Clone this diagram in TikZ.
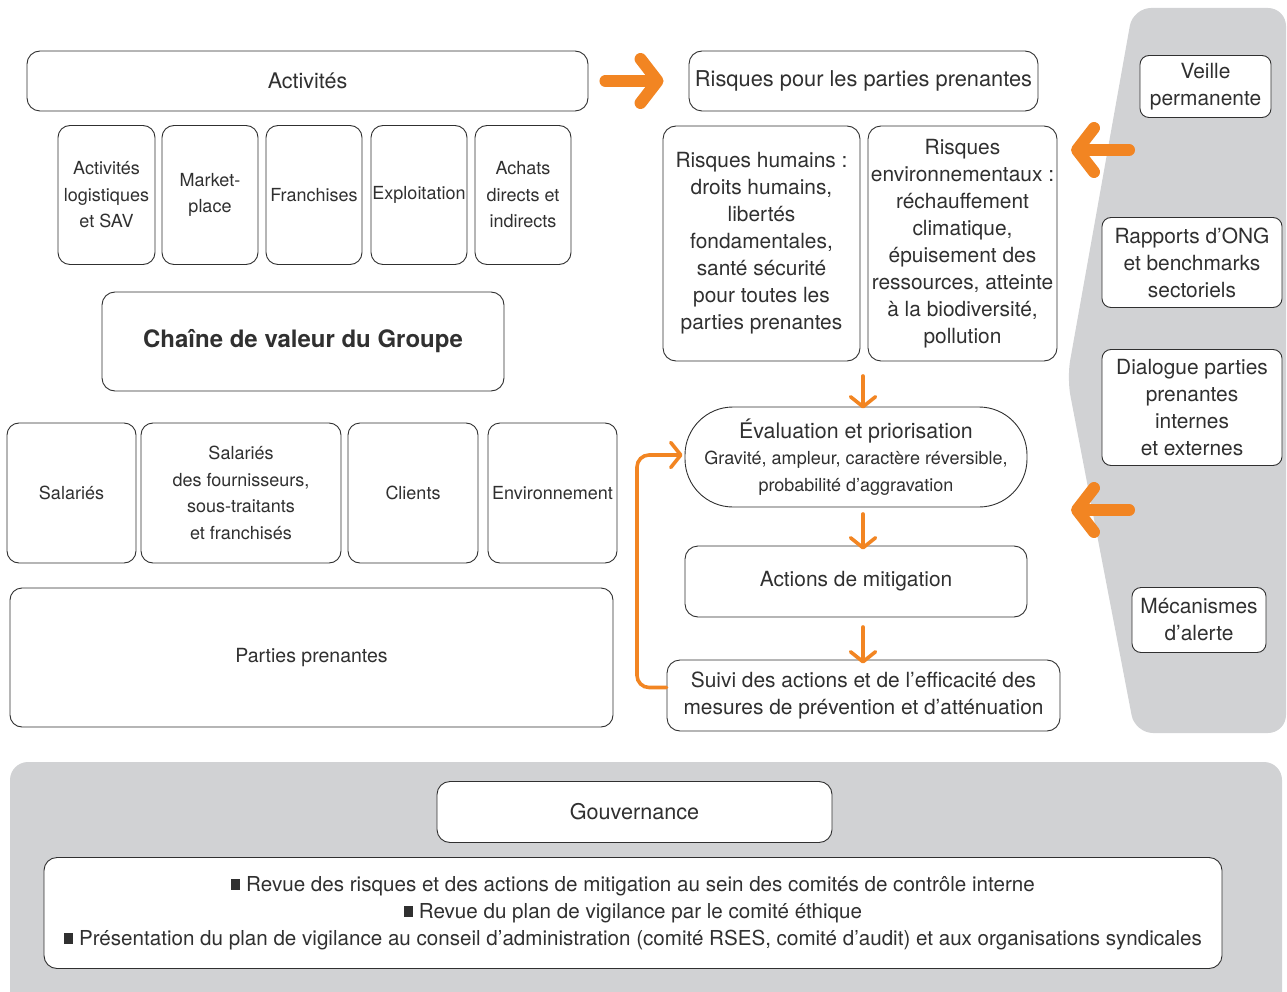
\documentclass[tikz,border=0pt]{standalone}
\usepackage{fontspec}
\setmainfont{TeX Gyre Heros}
\usetikzlibrary{arrows.meta}

\definecolor{vorange}{RGB}{242,133,34}
\definecolor{vgray}{RGB}{209,210,212}
\definecolor{vink}{RGB}{48,48,48}

\newcommand{\puce}{\rule[0.05em]{0.45em}{0.55em}\ }

\tikzset{
  box/.style={draw=vink, line width=0.9pt, rounded corners=13pt, fill=white,
    align=center, inner sep=1pt, text=vink, font=\fontsize{20.9}{27}\selectfont},
  smallbox/.style={box, rounded corners=12pt, font=\fontsize{18}{26.5}\selectfont},
  bigarrow/.style={draw=vorange, line width=12pt, line cap=round,
    -{Straight Barb[length=17pt, width=44pt, round]}},
  flowarrow/.style={draw=vorange, line width=3.6pt, line cap=round,
    -{Straight Barb[length=10pt, width=25pt, round]}},
}

\begin{document}
\begin{tikzpicture}[x=1pt,y=-1pt]
  \useasboundingbox (0,0) rectangle (1287,992);

  % gray panels
  \fill[vgray, rounded corners=18pt] (1133,8) -- (1286,8) -- (1286,733) -- (1135,733) -- (1067,378) -- cycle;
  \fill[vgray, rounded corners=18pt] (10,992) -- (10,762) -- (1282,762) -- (1282,992);
  \fill[vgray] (10,960) rectangle (1282,992);

  % value chain
  \node[box, minimum width=561, minimum height=60, font=\fontsize{21.5}{27}\selectfont] (act) at (307.5,81) {Activités};
  \node[smallbox, minimum width=97, minimum height=139] (logi) at (106.5,195) {Activités\\logistiques\\et SAV};
  \node[smallbox, minimum width=96, minimum height=139] (market) at (210,195) {Market-\\place};
  \node[smallbox, minimum width=96, minimum height=139] (franch) at (314,195) {Franchises};
  \node[smallbox, minimum width=96, minimum height=139] (exploit) at (419,195) {Exploitation};
  \node[smallbox, minimum width=96, minimum height=139] (achats) at (523,195) {Achats\\directs et\\indirects};
  \node[box, minimum width=402, minimum height=99, font=\fontsize{24}{28}\selectfont\bfseries] (chaine) at (303,341.5) {Chaîne de valeur du Groupe};

  % stakeholders
  \node[smallbox, minimum width=129, minimum height=140] (sal) at (71.5,493) {Salariés};
  \node[smallbox, minimum width=200, minimum height=140] (salfour) at (241,493) {Salariés\\des fournisseurs,\\sous-traitants\\et franchisés};
  \node[smallbox, minimum width=130, minimum height=140] (clients) at (413,493) {Clients};
  \node[smallbox, minimum width=129, minimum height=140] (envir) at (552.5,493) {Environnement};
  \node[smallbox, minimum width=603, minimum height=139, font=\fontsize{19.5}{26.5}\selectfont] (parties) at (311.5,657.5) {Parties prenantes};

  % risks
  \node[box, minimum width=349, minimum height=60, font=\fontsize{21.8}{27}\selectfont] (risques) at (863.5,81) {Risques pour les parties prenantes};
  \node[box, minimum width=197, minimum height=235] (rhum) at (761.5,243.5) {Risques humains :\\droits humains,\\libertés\\fondamentales,\\santé sécurité\\pour toutes les\\parties prenantes};
  \node[box, minimum width=189, minimum height=235] (renv) at (962.5,243.5) {Risques\\environnementaux :\\réchauffement\\climatique,\\épuisement des\\ressources, atteinte\\à la biodiversité,\\pollution};

  % process
  \node[box, rounded corners=48pt, minimum width=342, minimum height=100] (eval) at (856,457)
    {{\fontsize{21.4}{27}\selectfont Évaluation et priorisation}\\[-1pt]{\fontsize{18}{27}\selectfont Gravité, ampleur, caractère réversible,}\\{\fontsize{18}{27}\selectfont probabilité d’aggravation}};
  \node[box, minimum width=342, minimum height=71] (mitig) at (856,581.5) {Actions de mitigation};
  \node[box, minimum width=393, minimum height=71] (suivi) at (863.5,695.5) {Suivi des actions et de l’efficacité des\\mesures de prévention et d’atténuation};

  % sources
  \node[box, rounded corners=9pt, minimum width=131, minimum height=62] (veille) at (1205.5,86.5) {Veille\\permanente};
  \node[box, rounded corners=9pt, minimum width=180, minimum height=90] (ong) at (1192,262.5) {Rapports d’ONG\\et benchmarks\\sectoriels};
  \node[box, rounded corners=9pt, minimum width=180, minimum height=116] (dialog) at (1192,407.5) {Dialogue parties\\prenantes\\internes\\et externes};
  \node[box, rounded corners=9pt, minimum width=134, minimum height=65] (alerte) at (1199,620) {Mécanismes\\d’alerte};

  % governance
  \node[box, minimum width=395, minimum height=61, font=\fontsize{21.6}{27}\selectfont] (gouv) at (634.5,812) {Gouvernance};
  \node[box, minimum width=1178, minimum height=111, font=\fontsize{20.6}{27}\selectfont] (revue) at (633,913)
    {\puce Revue des risques et des actions de mitigation au sein des comités de contrôle interne\\
     \puce Revue du plan de vigilance par le comité éthique\\
     \puce Présentation du plan de vigilance au conseil d’administration (comité RSES, comité d’audit) et aux organisations syndicales};

  % arrows
  \coordinate (vin1) at (1129,150);
  \coordinate (vin2) at (1129,510);
  \draw[bigarrow] (act.east) ++(17,0) -- ([xshift=-25]risques.west);
  \draw[bigarrow] (vin1) -- (1071,150);
  \draw[bigarrow] (vin2) -- (1071,510);
  \draw[flowarrow] (863,376) -- ([yshift=-2]eval.north -| 863,0);
  \draw[flowarrow] (863,514) -- ([yshift=-4]mitig.north -| 863,0);
  \draw[flowarrow] (863,627) -- ([yshift=-4]suivi.north -| 863,0);
  \draw[flowarrow, rounded corners=12pt] ([yshift=8]suivi.west) -| (637,455) -- ([xshift=-2]eval.west |- 0,455);
\end{tikzpicture}
\end{document}
